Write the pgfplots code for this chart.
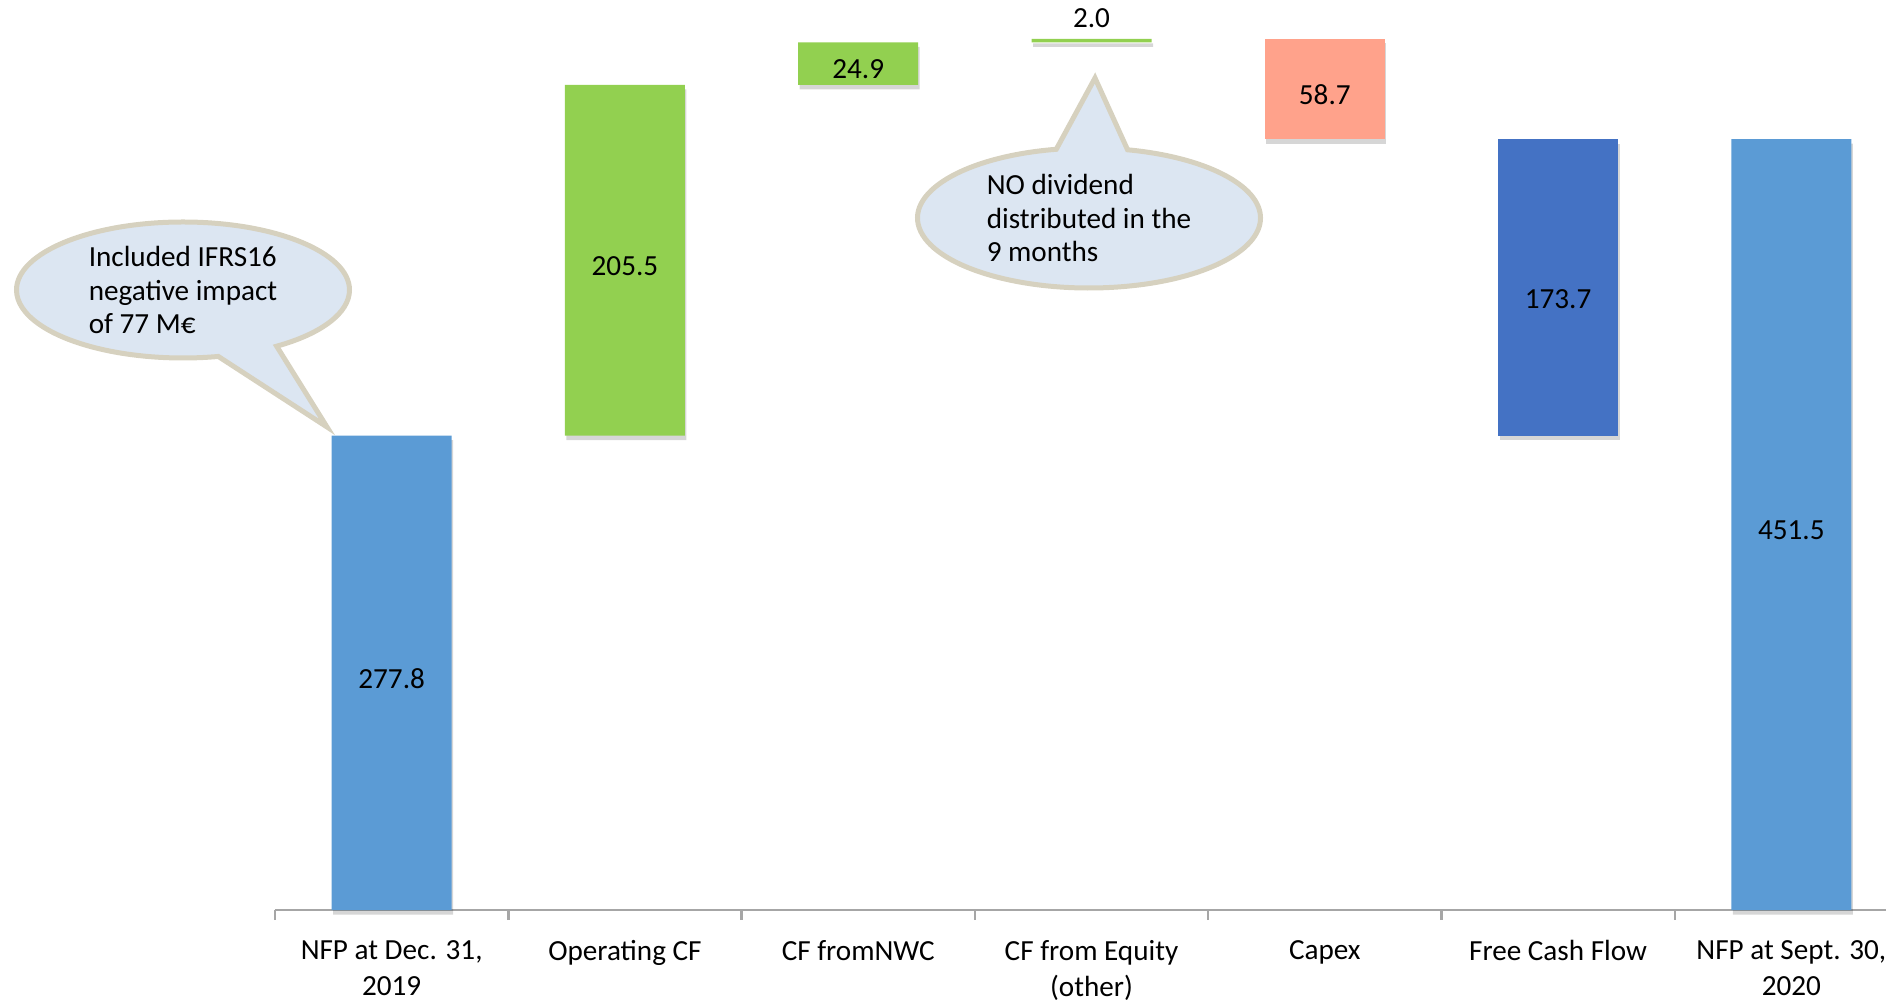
\documentclass[border=0pt]{standalone}
\usepackage{fontspec}
\setmainfont{Carlito}
\usepackage{pgfplots}
\pgfplotsset{compat=1.18}
\usetikzlibrary{shapes.callouts,shadows}
\definecolor{nfpblue}{HTML}{5B9BD5}
\definecolor{fcfblue}{HTML}{4472C4}
\definecolor{posgreen}{HTML}{92D050}
\definecolor{capexred}{HTML}{FFA28B}
\definecolor{bubblefill}{HTML}{DCE6F2}
\definecolor{bubbleedge}{HTML}{D6D1BF}
\definecolor{axisgray}{HTML}{A6A6A6}
\newcommand{\lbl}{\fontsize{8.3}{10.2}\selectfont}
\newcommand{\blbl}{\fontsize{8.3}{9.4}\selectfont}
\begin{document}
\begin{tikzpicture}
\begin{axis}[
  at={(0,0)}, anchor=south west,
  scale only axis, width=16.33cm, height=9.10cm,
  xmin=-0.5, xmax=6.5, ymin=0, ymax=533,
  ybar stacked, bar width=1.2cm,
  axis x line*=bottom, axis y line=none,
  axis line style={axisgray, line width=0.7pt},
  ytick=\empty,
  xtick={0,...,6},
  xticklabels={{NFP at Dec. 31,\\2019},{Operating CF},{CF fromNWC},{CF from Equity\\(other)},{Capex},{Free Cash Flow},{NFP at Sept. 30,\\2020}},
  xticklabel style={align=center, font=\lbl, text=black, yshift=-1.8mm},
  major tick length=0pt,
  minor xtick={-0.5,0.5,...,6.5},
  minor tick length=1mm,
  xtick align=outside,
  minor tick style={axisgray, line width=0.7pt},
  clip=false,
  bar shadow/.style={drop shadow={shadow xshift=0.15mm, shadow yshift=-0.45mm, opacity=0.16, fill=black}},
]
% invisible base
\addplot[fill=none, draw=none] coordinates {(0,0) (1,277.8) (2,483.3) (3,508.2) (4,451.5) (5,277.8) (6,0)};
% NFP totals
\addplot[fill=nfpblue, draw=none, bar shadow] coordinates {(0,277.8) (1,0) (2,0) (3,0) (4,0) (5,0) (6,451.5)};
% positive contributions
\addplot[fill=posgreen, draw=none, bar shadow] coordinates {(0,0) (1,205.5) (2,24.9) (3,2.0) (4,0) (5,0) (6,0)};
% capex
\addplot[fill=capexred, draw=none, bar shadow] coordinates {(0,0) (1,0) (2,0) (3,0) (4,58.7) (5,0) (6,0)};
% free cash flow
\addplot[fill=fcfblue, draw=none, bar shadow] coordinates {(0,0) (1,0) (2,0) (3,0) (4,0) (5,173.7) (6,0)};
\end{axis}
% value labels on an overlay axis with the same geometry
\begin{axis}[
  at={(0,0)}, anchor=south west,
  scale only axis, width=16.33cm, height=9.10cm,
  xmin=-0.5, xmax=6.5, ymin=0, ymax=533,
  hide axis, clip=false,
]
\addplot[draw=none, mark=none,
  nodes near coords, point meta=explicit symbolic,
  every node near coord/.append style={font=\lbl, text=black, anchor=center, inner sep=0pt, yshift=-0.6mm}]
  coordinates {(0,138.9)[277.8] (1,380.55)[205.5] (2,495.75)[24.9] (3,526)[2.0] (4,480.85)[58.7] (5,361)[173.7] (6,225.75)[451.5]};
\end{axis}
% callouts
\node[ellipse callout, draw=bubbleedge, fill=bubblefill, line width=0.5mm,
  minimum width=3.33cm, minimum height=1.36cm, inner sep=0pt,
  callout absolute pointer={(0.52,4.83)}, callout pointer arc=22,
  font=\blbl, align=left] at (-0.92,6.20) {Included IFRS16\\negative impact\\of 77 M€};
\node[ellipse callout, draw=bubbleedge, fill=bubblefill, line width=0.5mm,
  minimum width=3.43cm, minimum height=1.40cm, inner sep=0pt,
  callout absolute pointer={(8.20,8.32)}, callout pointer arc=24,
  font=\blbl, align=left] at (8.14,6.92) {NO dividend\\distributed in the\\9 months};
\pgfresetboundingbox
\useasboundingbox (-2.75,-0.92) rectangle (16.11,9.10);
\end{tikzpicture}
\end{document}
